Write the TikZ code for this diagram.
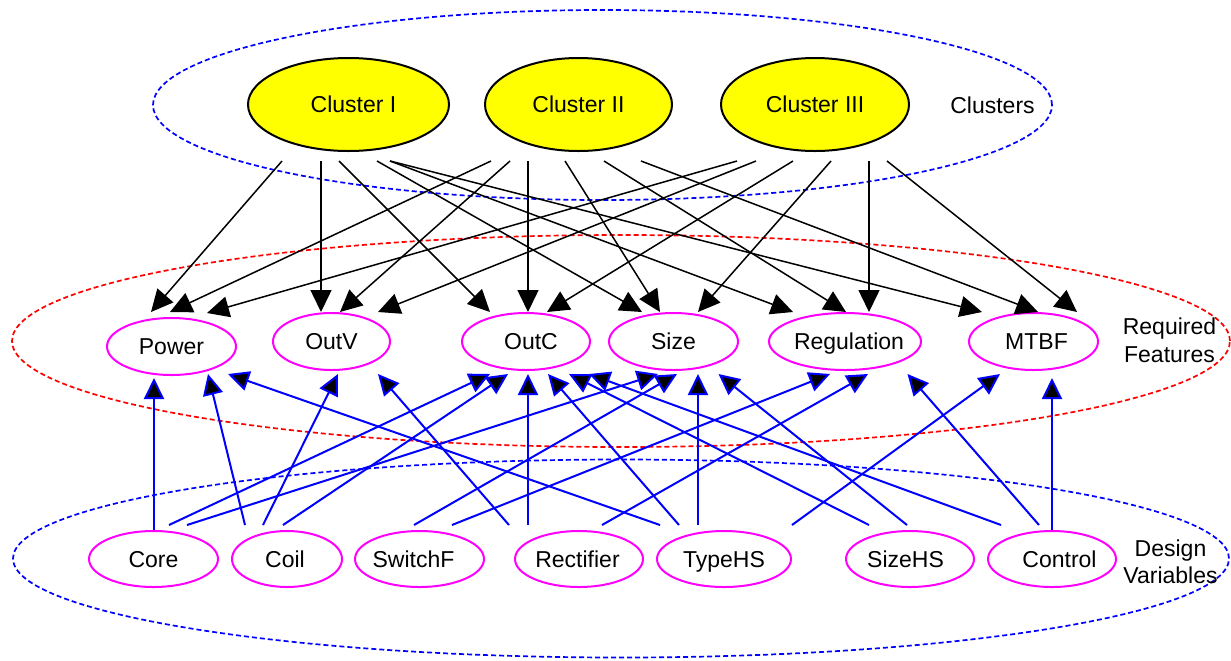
\documentclass[tikz,border=0pt]{standalone}
\usepackage{fontspec}
\setmainfont{Liberation Sans}
\usetikzlibrary{shapes.geometric,arrows.meta,calc}

\definecolor{nodeyellow}{RGB}{255,255,0}
\definecolor{nodemagenta}{RGB}{255,0,255}
\definecolor{linkblue}{RGB}{0,0,255}
\definecolor{groupred}{RGB}{255,0,0}

% zero-width label box, optionally nudged sideways
\newcommand\tshift[2]{\makebox[0pt]{\hspace*{#1}#2\hspace*{-#1}}}

\begin{document}
\begin{tikzpicture}[x=0.5pt,y=-0.5pt,
  font=\fontsize{11.5}{13.75}\selectfont,
  cluster/.style={ellipse,draw=black,line width=1pt,fill=nodeyellow,inner sep=0pt,
    minimum height=46.5pt,text height=8.23pt,text depth=0pt},
  feature/.style={ellipse,draw=nodemagenta,line width=1pt,inner sep=0pt,
    minimum height=28.5pt,text height=8.23pt,text depth=0pt},
  dvar/.style={ellipse,draw=nodemagenta,line width=1pt,inner sep=0pt,
    minimum height=28pt,text height=8.23pt,text depth=0pt},
  groupline/.style={line width=0.85pt,dash pattern=on 2.5pt off 1.5pt},
  grouplabel/.style={align=center,inner sep=0pt},
  blk/.style={draw=black,line width=0.75pt,-{Triangle[length=11pt,width=10.5pt]}},
  blu/.style={draw=linkblue,line width=1pt,-{Triangle[length=10.5pt,width=10pt,fill=black]}}
]
\useasboundingbox (0,0) rectangle (1231,660);

% layer outlines
\draw[groupline,linkblue] (602.5,105) ellipse [x radius=224.75pt,y radius=47.5pt];
\draw[groupline,groupred] (621,341) ellipse [x radius=304.5pt,y radius=53pt];
\draw[groupline,linkblue] (621,558.5) ellipse [x radius=304pt,y radius=49.5pt];

% clusters
\node[cluster,minimum width=100.5pt] (c1) at (348.5,104.5) {\tshift{2.5pt}{Cluster I}};
\node[cluster,minimum width=93.5pt] (c2) at (578.5,104.5) {\tshift{0pt}{Cluster II}};
\node[cluster,minimum width=94pt] (c3) at (815,104.5) {\tshift{0pt}{Cluster III}};
\node[grouplabel,text height=8.23pt,text depth=0pt] (lc) at (992.5,105) {Clusters};

% required features
\node[feature,minimum width=64.5pt] (pw) at (171.5,346.5) {\tshift{0pt}{Power}};
\node[feature,minimum width=58.5pt] (ov) at (331.5,341.5) {\tshift{0pt}{OutV}};
\node[feature,minimum width=64pt] (oc) at (526,341.5) {\tshift{2.5pt}{OutC}};
\node[feature,minimum width=64.5pt] (sz) at (673.5,341.5) {\tshift{0pt}{Size}};
\node[feature,minimum width=76pt] (rg) at (845,341.5) {\tshift{2pt}{Regulation}};
\node[feature,minimum width=64.5pt] (mt) at (1033.5,341.5) {\tshift{1.5pt}{MTBF}};
\node[grouplabel] (lf) at (1169.5,340.5) {Required\\Features};

% design variables
\node[dvar,minimum width=64.5pt] (cr) at (153.5,559) {\tshift{0pt}{Core}};
\node[dvar,minimum width=55pt] (cl) at (287,559) {\tshift{-1pt}{Coil}};
\node[dvar,minimum width=64.5pt] (sw) at (419.5,559) {\tshift{-3pt}{SwitchF}};
\node[dvar,minimum width=64pt] (rc) at (579,559) {\tshift{-0.75pt}{Rectifier}};
\node[dvar,minimum width=67pt] (th) at (724,559) {\tshift{0pt}{TypeHS}};
\node[dvar,minimum width=64pt] (sh) at (910,559) {\tshift{-2.25pt}{SizeHS}};
\node[dvar,minimum width=64pt] (ct) at (1052,559) {\tshift{3.75pt}{Control}};
\node[grouplabel] (lv) at (1170.5,562) {Design\\Variables};

% cluster -> feature
\draw[blk] ($(c1.south)+(-66.5,9)$) -- ($(pw.north)+(-20.5,-5)$);
\draw[blk] ($(c1.south)+(-27.5,9)$) -- ($(ov.north)+(-10.5,0)$);
\draw[blk] ($(c1.south)+(-9.5,9)$) -- ($(oc.north)+(-36,0)$);
\draw[blk] ($(c1.south)+(28.5,9)$) -- ($(sz.north)+(-31.5,0)$);
\draw[blk] ($(c1.south)+(41.5,9)$) -- ($(rg.north)+(-52,0)$);
\draw[blk] ($(c1.south)+(41.5,9)$) -- ($(mt.north)+(-51.5,0)$);

\draw[blk] ($(c2.south)+(-87.5,9)$) -- ($(pw.north)+(-1.5,-5)$);
\draw[blk] ($(c2.south)+(-68.5,9)$) -- ($(ov.north)+(8.5,0)$);
\draw[blk] ($(c2.south)+(-50.5,9)$) -- ($(oc.north)+(2,0)$);
\draw[blk] ($(c2.south)+(-13.5,9)$) -- ($(sz.north)+(-13.5,0)$);
\draw[blk] ($(c2.south)+(25.5,9)$) -- ($(rg.north)+(1,0)$);
\draw[blk] ($(c2.south)+(62.5,9)$) -- ($(mt.north)+(4.5,0)$);

\draw[blk] ($(c3.south)+(-78,9)$) -- ($(pw.north)+(35.5,-4)$);
\draw[blk] ($(c3.south)+(-59,9)$) -- ($(ov.north)+(46.5,0)$);
\draw[blk] ($(c3.south)+(-22,9)$) -- ($(oc.north)+(21,0)$);
\draw[blk] ($(c3.south)+(16,9)$) -- ($(sz.north)+(24.5,0)$);
\draw[blk] ($(c3.south)+(54,9)$) -- ($(rg.north)+(24,0)$);
\draw[blk] ($(c3.south)+(72,9)$) -- ($(mt.north)+(43.5,0)$);

% design variable -> feature
\draw[blu] ($(cr.north)+(0.5,0)$) -- ($(pw.south)+(-17.5,2)$);
\draw[blu] ($(cr.north)+(15.5,-5)$) -- ($(oc.south)+(-36,3)$);
\draw[blu] ($(cr.north)+(33.5,-5)$) -- ($(sz.south)+(-15.5,3)$);

\draw[blu] ($(cl.north)+(-42,-5)$) -- ($(pw.south)+(36.5,-2)$);
\draw[blu] ($(cl.north)+(-24,-5)$) -- ($(ov.south)+(6.5,3)$);
\draw[blu] ($(cl.north)+(-4,-5)$) -- ($(oc.south)+(-18,3)$);

\draw[blu] ($(sw.north)+(-5.5,-5)$) -- ($(sz.south)+(3.5,3)$);
\draw[blu] ($(sw.north)+(32.5,-5)$) -- ($(rg.south)+(-15,3)$);

\draw[blu] ($(rc.north)+(-70,-5)$) -- ($(ov.south)+(46.5,3)$);
\draw[blu] ($(rc.north)+(-51,-5)$) -- ($(oc.south)+(2,3)$);
\draw[blu] ($(rc.north)+(23,-5)$) -- ($(rg.south)+(23,3)$);

\draw[blu] ($(th.north)+(-64,-5)$) -- ($(pw.south)+(56.5,-2)$);
\draw[blu] ($(th.north)+(-45,-5)$) -- ($(oc.south)+(22,3)$);
\draw[blu] ($(th.north)+(-26,-5)$) -- ($(sz.south)+(24.5,3)$);
\draw[blu] ($(th.north)+(68,-5)$) -- ($(mt.south)+(-33.5,3)$);

\draw[blu] ($(sh.north)+(-41,-5)$) -- ($(oc.south)+(43,3)$);
\draw[blu] ($(sh.north)+(-3,-5)$) -- ($(sz.south)+(45,3)$);

\draw[blu] ($(ct.north)+(-51,-5)$) -- ($(oc.south)+(63,3)$);
\draw[blu] ($(ct.north)+(-13,-5)$) -- ($(rg.south)+(62.5,3)$);
\draw[blu] ($(ct.north)+(0,0)$) -- ($(mt.south)+(18.5,7)$);
\end{tikzpicture}
\end{document}
